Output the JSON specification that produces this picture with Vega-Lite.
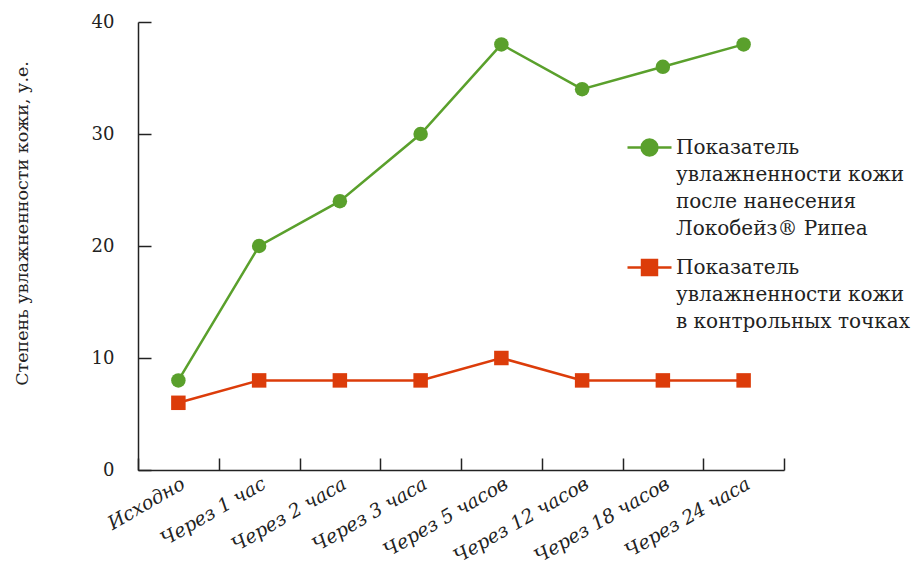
{
  "$schema": "https://vega.github.io/schema/vega-lite/v6.json",
  "width": 646,
  "height": 448,
  "autosize": {"type": "none"},
  "padding": {"left": 138, "top": 22, "right": 132, "bottom": 103},
  "background": "white",
  "config": {"font": "DejaVu Serif", "view": {"stroke": null}},
  "data": {"values": [
    {"time": "Исходно", "series": "A", "value": 8},
    {"time": "Через 1 час", "series": "A", "value": 20},
    {"time": "Через 2 часа", "series": "A", "value": 24},
    {"time": "Через 3 часа", "series": "A", "value": 30},
    {"time": "Через 5 часов", "series": "A", "value": 38},
    {"time": "Через 12 часов", "series": "A", "value": 34},
    {"time": "Через 18 часов", "series": "A", "value": 36},
    {"time": "Через 24 часа", "series": "A", "value": 38},
    {"time": "Исходно", "series": "B", "value": 6},
    {"time": "Через 1 час", "series": "B", "value": 8},
    {"time": "Через 2 часа", "series": "B", "value": 8},
    {"time": "Через 3 часа", "series": "B", "value": 8},
    {"time": "Через 5 часов", "series": "B", "value": 10},
    {"time": "Через 12 часов", "series": "B", "value": 8},
    {"time": "Через 18 часов", "series": "B", "value": 8},
    {"time": "Через 24 часа", "series": "B", "value": 8}
  ]},
  "encoding": {
    "x": {
      "field": "time", "type": "nominal", "sort": null,
      "scale": {"type": "band", "paddingInner": 0, "paddingOuter": 0},
      "axis": {
        "title": null, "tickBand": "extent", "tickSize": -12, "tickColor": "#222", "tickWidth": 1.5,
        "domainColor": "#222", "domainWidth": 1.5,
        "labelAngle": -30, "labelAlign": "right", "labelBaseline": "top", "labelPadding": 16,
        "labelFontStyle": "italic", "labelFontSize": 19, "labelColor": "#222", "labelLimit": 0
      }
    },
    "y": {
      "field": "value", "type": "quantitative",
      "scale": {"domain": [0, 40]},
      "axis": {
        "values": [0, 10, 20, 30, 40], "grid": false, "tickSize": -13, "tickColor": "#222", "tickWidth": 1.5,
        "domainColor": "#222", "domainWidth": 1.5,
        "labelFontSize": 18, "labelColor": "#222", "labelPadding": 37,
        "title": "Степень увлажненности кожи, у.е.", "titleFontSize": 17.5, "titleFontWeight": "normal",
        "titleColor": "#222", "titleAngle": -90, "titleX": -116, "titleY": 201, "titleAlign": "center", "titleBaseline": "middle"
      }
    },
    "color": {
      "field": "series", "type": "nominal",
      "scale": {"domain": ["A", "B"], "range": ["#5aa02c", "#dc3c0a"]},
      "legend": {
        "title": null, "orient": "none", "legendX": 488, "legendY": 102,
        "labelFontSize": 20, "labelColor": "#222", "labelLimit": 0, "labelOffset": 3,
        "rowPadding": 5, "symbolSize": 1936, "symbolStrokeWidth": 2.5,
        "labelExpr": "datum.label == 'A' ? ['Показатель', 'увлажненности кожи', 'после нанесения', 'Локобейз® Рипеа'] : ['Показатель', 'увлажненности кожи', 'в контрольных точках']",
        "encode": {
          "symbols": {"update": {
            "shape": {"signal": "datum.value == 'A' ? 'M-1,0H1M0.36,0A0.36,0.36,0,1,1,-0.36,0A0.36,0.36,0,1,1,0.36,0Z' : 'M-1,0H1M-0.34,-0.34H0.34V0.34H-0.34Z'"},
            "fill": {"scale": "color", "field": "value"},
            "stroke": {"scale": "color", "field": "value"},
            "strokeWidth": {"value": 2.5},
            "opacity": {"value": 1}
          }},
          "labels": {"update": {"lineHeight": {"value": 27}}}
        }
      }
    }
  },
  "layer": [
    {"mark": {"type": "line", "strokeWidth": 2.5}},
    {
      "transform": [{"filter": "datum.series == 'A'"}],
      "mark": {"type": "circle", "opacity": 1, "size": 210}
    },
    {
      "transform": [{"filter": "datum.series == 'B'"}],
      "mark": {"type": "square", "opacity": 1, "size": 210}
    }
  ]
}
